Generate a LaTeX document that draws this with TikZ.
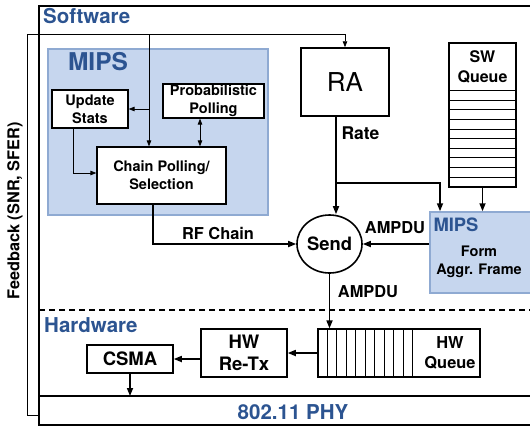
\documentclass[tikz,border=0pt]{standalone}
\usepackage{fontspec}
\setmainfont{TeX Gyre Heros}
\usetikzlibrary{arrows.meta,shapes.geometric,calc}
\definecolor{hdrblue}{HTML}{2C5491}
\definecolor{mipsfill}{HTML}{C6D6EE}
\definecolor{mipsline}{HTML}{8FAAD2}
\newcommand{\fs}[1]{\fontsize{#1}{1.22\dimexpr#1pt\relax}\selectfont}
\begin{document}
\begin{tikzpicture}[x=1pt,y=-1pt,
  frame/.style={line width=1.8pt},
  boxnode/.style={draw, line width=1.2pt, fill=white, align=center, inner sep=0pt, font=\bfseries\fs{14.5}},
  mipsbox/.style={draw=mipsline, line width=1.5pt, fill=mipsfill, inner sep=0pt},
  hdr/.style={text=hdrblue, font=\bfseries\fs{20.5}, inner sep=0pt},
  lbl/.style={font=\bfseries\fs{16.4}, inner sep=0pt, align=center},
  arr/.style={line width=1.6pt, -{Triangle[length=8pt,width=6pt]}},
  tarr/.style={line width=0.8pt, -{Triangle[length=6pt,width=4.5pt]}},
  dtarr/.style={line width=0.8pt, {Triangle[length=6pt,width=4.5pt]}-{Triangle[length=6pt,width=4.5pt]}},
  tline/.style={line width=0.8pt}]
\useasboundingbox (0,0) rectangle (530,429);
% frame
\draw[frame] (530,6) -- (39,6) -- (39,425) -- (530,425);
\draw[frame] (39,396) -- (530,396);
\draw[line width=1.3pt, dash pattern=on 6pt off 4pt] (39,310) -- (530,310);
\node[hdr, anchor=west] (sw) at (43,16) {Software};
\node[hdr, anchor=west] (hw) at (44,325) {Hardware};
\node[hdr] (phy) at (293,412) {802.11 PHY};
% MIPS big box
\node[mipsbox, minimum width=220pt, minimum height=166pt] (mips) at (158,132) {};
\node[text=hdrblue, font=\bfseries\fs{24.5}, inner sep=0pt] (mipst) at (98,62) {MIPS};
\node[boxnode, minimum width=76pt, minimum height=38pt] (upd) at (90,109) {Update\\Stats};
\node[boxnode, minimum width=101pt, minimum height=34pt] (prob) at (213.5,101) {Probabilistic\\Polling};
\node[boxnode, minimum width=129pt, minimum height=57pt] (chain) at (161.5,175.5) {Chain Polling/\\Selection};
% RA
\node[draw, line width=1.5pt, minimum width=88pt, minimum height=68pt, inner sep=0pt, font=\fs{26}] (ra) at (345,82) {RA};
% SW queue
\node[draw, line width=1.2pt, minimum width=67pt, minimum height=144pt, inner sep=0pt] (sq) at (482.5,115) {};
\node[lbl, font=\bfseries\fs{16}] (sqt) at (482.5,67) {SW\\Queue};
\foreach \k in {0,...,9} {
  \draw[line width=0.6pt] ($(sq.north west)+(0,48+9.6*\k)$) -- ++(67,0);
}
% Send
\node[draw, ellipse, line width=1.6pt, minimum width=65pt, minimum height=58pt, inner sep=0pt, font=\bfseries\fs{18.4}] (send) at (329.5,244) {Send};
% MIPS 2
\node[mipsbox, minimum width=102pt, minimum height=81pt] (mips2) at (481,252.5) {};
\node[text=hdrblue, font=\bfseries\fs{18.4}, inner sep=0pt] (mips2t) at (456,225) {MIPS};
\node[font=\bfseries\fs{14.5}, align=center, inner sep=0pt] (form) at (479,262) {Form\\Aggr. Frame};
% HW queue
\node[draw, line width=1.2pt, minimum width=162pt, minimum height=48pt, inner sep=0pt] (hq) at (399,353) {};
\foreach \k in {1,...,10} {
  \draw[line width=0.6pt] ($(hq.north west)+(9.5*\k,0)$) -- ++(0,48);
}
\node[lbl] (hqt) at (450,353) {HW\\Queue};
% HW Re-Tx, CSMA
\node[boxnode, line width=1.5pt, minimum width=86pt, minimum height=48pt, font=\bfseries\fs{18.5}] (retx) at (244,353) {HW\\Re-Tx};
\node[boxnode, line width=1.5pt, minimum width=86pt, minimum height=28pt, font=\bfseries\fs{18.5}] (csma) at (130,359) {CSMA};
% Feedback
\node[font=\bfseries\fs{16.3}, rotate=90, inner sep=0pt] (fbl) at (15,211) {Feedback (SNR, SFER)};
\coordinate (fb0) at (39,415);
\coordinate (fbc) at (27,34);
\coordinate (tap) at (149,34);
\draw[tarr] (fb0) -| (fbc) -| (ra.north);
\draw[tarr] (tap) -- (tap |- chain.north);
\draw[tarr] (tap |- upd.east) -- (upd.east);
\coordinate (ux) at (73,0);
\draw[tarr] (ux |- upd.south) |- (chain.west |- 0,173);
\coordinate (px) at (200,0);
\draw[dtarr] (px |- prob.south) -- (px |- chain.north);
% main flow
\coordinate (cx) at (153,0);
\draw[arr] (cx |- chain.south) |- (send.west);
\node[lbl] (rfl) at (218,233) {RF Chain};
\coordinate (rx) at (336,0);
\coordinate (br) at (336,183);
\draw[arr] (rx |- ra.south) -- (rx |- send.north);
\node[lbl, font=\bfseries\fs{17.5}] (ratel) at (360.5,133) {Rate};
\coordinate (mx) at (440,0);
\draw[arr] (br) -| (mx |- mips2.north);
\draw[arr] (sq.south) -- (sq.south |- mips2.north);
\draw[arr] (mips2.west |- send.east) -- (send.east);
\node[lbl] (ampdu1) at (395,228) {AMPDU};
\draw[arr] (send.south) -- (send.south |- hq.north);
\node[lbl] (ampdu2) at (368,292) {AMPDU};
\draw[arr] (hq.west) -- (retx.east);
\draw[arr] (retx.west |- csma.east) -- (csma.east);
\draw[arr] (csma.south) -- (csma.south |- 0,396);
\end{tikzpicture}
\end{document}
